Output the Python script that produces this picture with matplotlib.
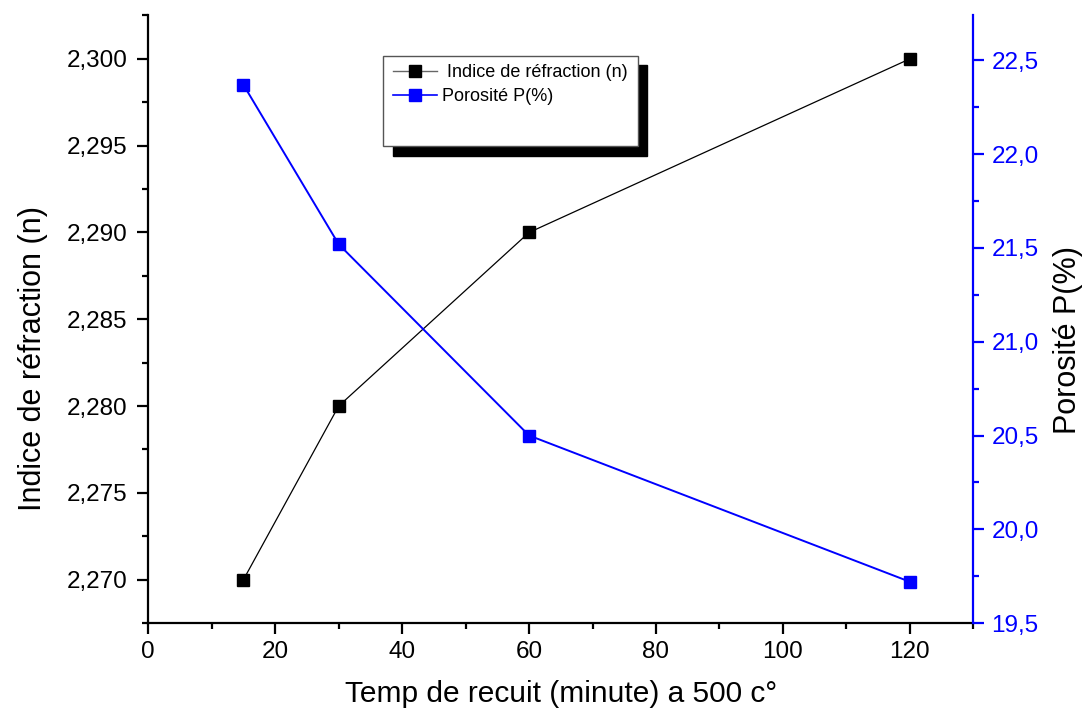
"""
Indice de réfraction et porosité en fonction du temps de recuit a 500 c°.

Outputs:
    out.png
"""

import matplotlib

matplotlib.use("Agg")
import matplotlib.pyplot as plt
from matplotlib.lines import Line2D
from matplotlib.patches import Rectangle
from matplotlib.ticker import FuncFormatter, MultipleLocator

plt.rcParams["font.family"] = ["Liberation Sans", "DejaVu Sans"]

# --- Data ---
temps = [15, 30, 60, 120]
indice_n = [2.270, 2.280, 2.290, 2.300]
porosite = [22.37, 21.52, 20.50, 19.72]

label_n = " Indice de réfraction (n)"
label_p = "Porosité P(%)"
BLUE = "#0000ff"


def comma(fmt):
    return FuncFormatter(lambda v, _: (fmt % v).replace(".", ","))


def main() -> None:
    fig = plt.figure(figsize=(10.92, 7.2), dpi=100)
    ax = fig.add_axes([0.1358, 0.1347, 0.7555, 0.8438])
    ax2 = ax.twinx()

    ax.plot(temps, indice_n, color="black", lw=0.9, marker="s",
            ms=8.5, mfc="black", mec="black")
    ax2.plot(temps, porosite, color=BLUE, lw=1.4, marker="s",
             ms=8.5, mfc=BLUE, mec=BLUE)

    ax.set_xlim(0, 130)
    ax.set_ylim(2.2675, 2.3025)
    ax2.set_ylim(19.5, 22.74)

    ax.xaxis.set_major_locator(MultipleLocator(20))
    ax.xaxis.set_minor_locator(MultipleLocator(10))
    ax.yaxis.set_major_locator(MultipleLocator(0.005))
    ax.yaxis.set_minor_locator(MultipleLocator(0.0025))
    ax.yaxis.set_major_formatter(comma("%.3f"))
    ax2.yaxis.set_major_locator(MultipleLocator(0.5))
    ax2.yaxis.set_minor_locator(MultipleLocator(0.25))
    ax2.yaxis.set_major_formatter(comma("%.1f"))

    for a in (ax, ax2):
        a.spines["top"].set_visible(False)
        for s in a.spines.values():
            s.set_linewidth(1.6)
    ax.spines["right"].set_visible(False)
    ax2.spines["left"].set_visible(False)
    ax2.spines["bottom"].set_visible(False)
    ax2.spines["right"].set_color(BLUE)

    ax.tick_params(which="major", length=8, width=1.6, labelsize=17.5, pad=5)
    ax.tick_params(axis="y", which="major", pad=7)
    ax.tick_params(which="minor", length=4.5, width=1.6)
    ax2.tick_params(which="major", length=8, width=1.6, labelsize=17.5,
                    pad=5, colors=BLUE)
    ax2.tick_params(which="minor", length=4.5, width=1.6, colors=BLUE)

    ax.set_xlabel("Temp de recuit (minute) a 500 c°", fontsize=21.5,
                  labelpad=12)
    ax.set_ylabel("Indice de réfraction (n)", fontsize=22)
    ax.yaxis.set_label_coords(-0.121, 0.436)
    ax2.set_ylabel("Porosité P(%)", fontsize=22)
    ax2.yaxis.set_label_coords(1.097, 0.466)

    # --- Legend box with offset black shadow ---
    x0, y0, w, h = 0.2848, 0.7852, 0.3084, 0.1486
    ax2.add_patch(Rectangle((x0 + 0.0113, y0 - 0.016), w, h,
                            transform=ax2.transAxes, facecolor="black",
                            edgecolor="black", zorder=5, clip_on=False))
    ax2.add_patch(Rectangle((x0, y0), w, h, transform=ax2.transAxes,
                            facecolor="white", edgecolor="#555555",
                            lw=1.0, zorder=6, clip_on=False))
    handles = [
        Line2D([], [], color="#666666", lw=1.0, marker="s", ms=8,
               mfc="black", mec="black"),
        Line2D([], [], color=BLUE, lw=1.2, marker="s", ms=8,
               mfc=BLUE, mec=BLUE),
    ]
    leg = ax2.legend(handles, [label_n, label_p], loc="upper left",
                     bbox_to_anchor=(x0 + 0.003, y0 + h - 0.002),
                     frameon=False, fontsize=13, handlelength=2.45,
                     handletextpad=0.25, labelspacing=0.38,
                     borderaxespad=0.0)
    leg.set_zorder(7)

    fig.savefig("out.png", dpi=100)
    plt.close(fig)


if __name__ == "__main__":
    main()
